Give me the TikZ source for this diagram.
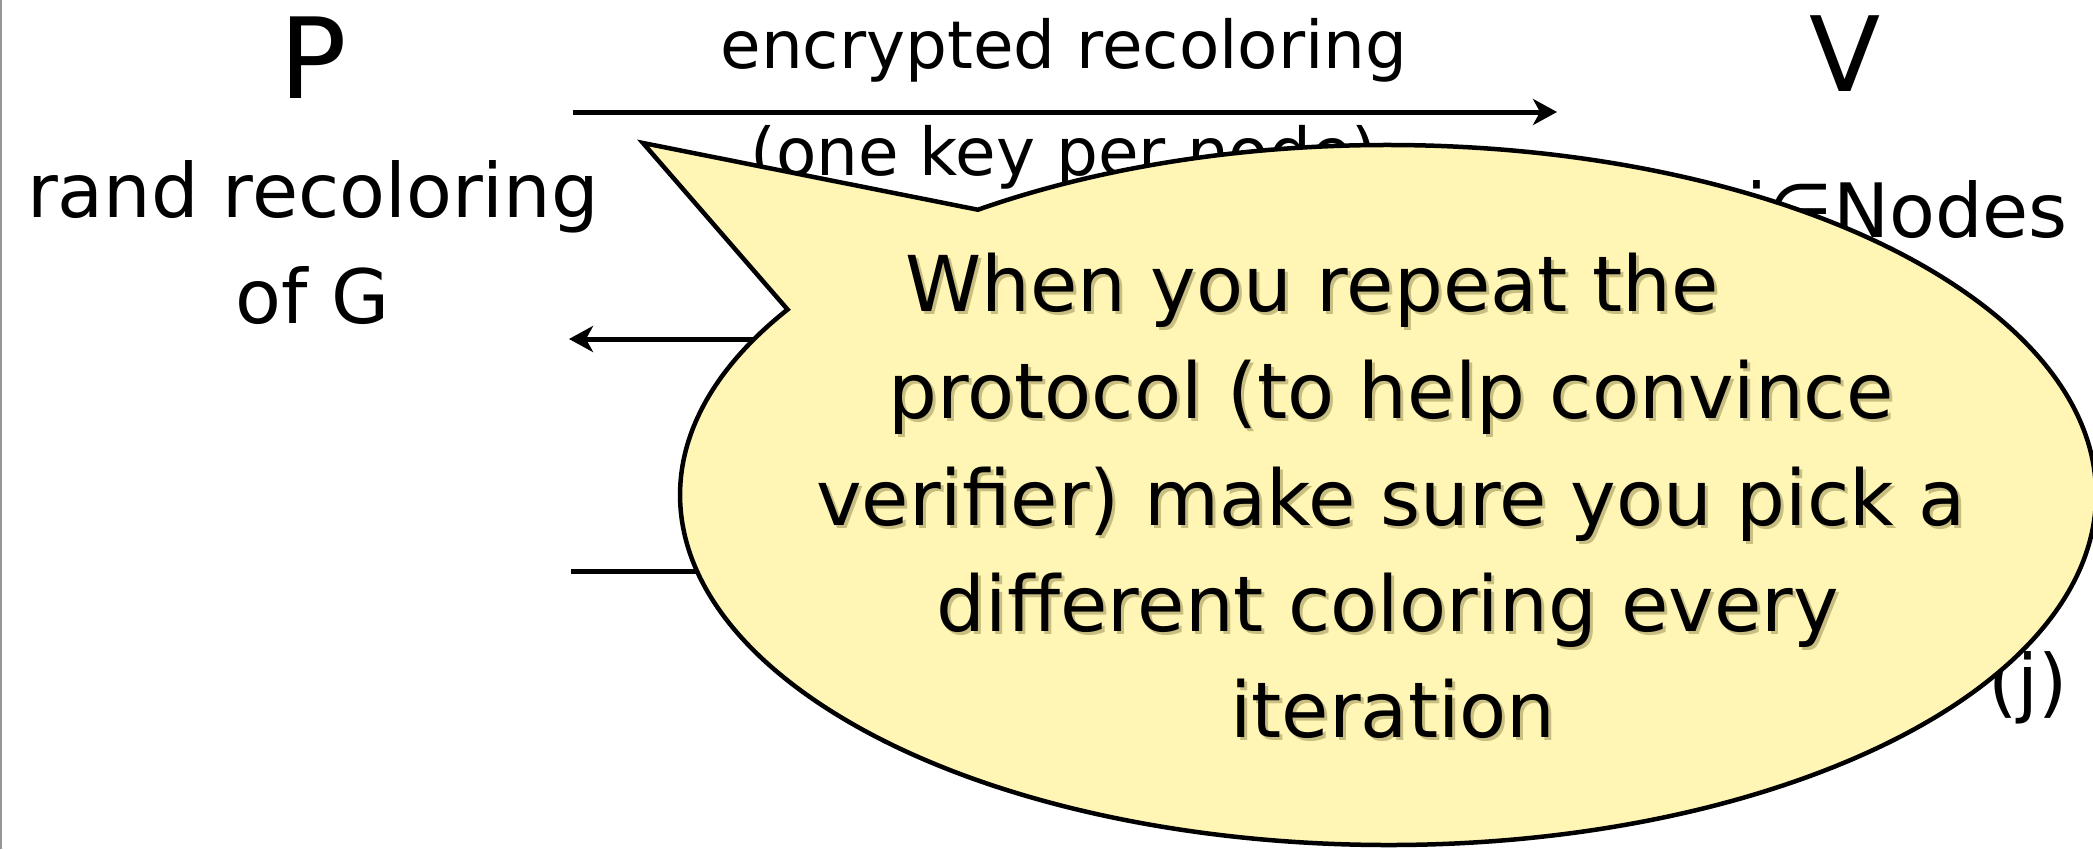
\documentclass[tikz,border=0pt]{standalone}
\usepackage{fontspec}
\setmainfont{DejaVu Sans}
\usetikzlibrary{arrows.meta,calc}
\definecolor{calloutfill}{RGB}{255,245,180}
\definecolor{shadowcol}{RGB}{200,190,130}
\definecolor{framegray}{RGB}{150,150,150}
\begin{document}
\begin{tikzpicture}[x=1pt,y=1pt,
  lbl/.style={inner sep=0pt, anchor=base, font=\fontsize{75}{90}\selectfont},
  biglbl/.style={inner sep=0pt, anchor=base, font=\fontsize{112}{130}\selectfont},
  vlbl/.style={inner sep=0pt, anchor=base, font=\fontsize{104}{120}\selectfont},
  smalllbl/.style={inner sep=0pt, anchor=base, font=\fontsize{66}{80}\selectfont},
  msg/.style={line width=5pt, -{Stealth[length=24pt,width=26pt,inset=7pt]}},
  callout/.style={draw=black, line width=4.5pt, fill=calloutfill, line join=miter},
  ctext/.style={inner sep=0pt, anchor=base, font=\fontsize{77}{92}\selectfont},
  cshadow/.style={ctext, text=shadowcol}]
\useasboundingbox (0,0) rectangle (2093,-849);
\fill[white] (0,0) rectangle (2093,-849);
\draw[framegray, line width=2pt] (1,0) -- (1,-849);

% labels
\node[biglbl] (P) at (313,-98) {P};
\node[vlbl] (V) at (1845,-91) {V};
\node[lbl] (rand) at (313,-217) {rand recoloring};
\node[lbl] (ofG) at (313,-323) {of G};
\node[smalllbl] (enc) at (1064,-68) {encrypted recoloring};
\node[smalllbl] (onekey) at (1064,-175) {(one key per node)};
\node[lbl, anchor=base east] (nodes) at (2068,-237) {i∈Nodes};
\node[lbl, anchor=base east] (jj) at (2068,-708) {(j)};

% message arrows
\coordinate (a1s) at (573,-112);
\coordinate (a1e) at (1557,-112);
\coordinate (a2s) at (1557,-339);
\coordinate (a2e) at (569,-339);
\coordinate (a3s) at (571,-571);
\coordinate (a3e) at (1557,-571);
\draw[msg] (a1s) -- (a1e);
\draw[msg] (a2s) -- (a2e);
\draw[msg] (a3s) -- (a3e);

% callout
\coordinate (C) at (1388,-495);
\coordinate (tip) at (643,-143);
\draw[callout] (tip) -- ($(C)+(125.4:708pt and 350pt)$)
  arc[start angle=125.4, end angle=-212, x radius=708pt, y radius=350pt] -- cycle;

\foreach \cx/\cy/\t [count=\i] in {1312/311/When you repeat the,
    1391/418/protocol (to help convince,
    1391/525/verifier) make sure you pick a,
    1388/631/different coloring every,
    1393/737/iteration}{
  \node[cshadow] (s\i) at (\cx+3,-\cy-3) {\t};
  \node[ctext] (c\i) at (\cx,-\cy) {\t};
}
\end{tikzpicture}
\end{document}
